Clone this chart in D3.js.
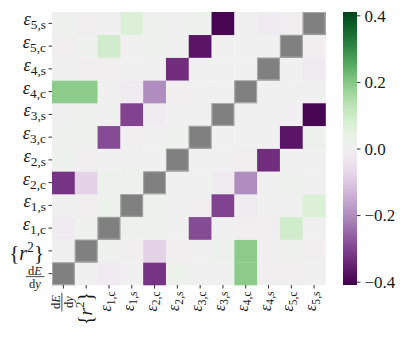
<!DOCTYPE html>
<html>
<head>
<meta charset="utf-8">
<script src="https://cdn.jsdelivr.net/npm/d3@7"></script>
<style>
  html, body { margin: 0; padding: 0; background: #fff; }
  svg { display: block; }
</style>
</head>
<body>
<svg id="chart" width="412" height="337"></svg>
<script>
// ---- data ----
// variable keys (index 0 = bottom row / left column)
const variables = ["dEdy", "r2", "e1c", "e1s", "e2c", "e2s", "e3c", "e3s", "e4c", "e4s", "e5c", "e5s"];
// label pieces: base symbol and subscript
const labelBase = ["frac", "braces", "ε", "ε", "ε", "ε", "ε", "ε", "ε", "ε", "ε", "ε"];
const labelSub = ["", "", "1,c", "1,s", "2,c", "2,s", "3,c", "3,s", "4,c", "4,s", "5,c", "5,s"];
const colorTicks = [-0.4, -0.2, 0.0, 0.2, 0.4];
const colorDomain = [-0.41, 0, 0.41];

// correlation rows (row variable -> values over column variables); null = diagonal
const row_dEdy = [null, 0.0, -0.02, 0.0, -0.32, 0.02, 0.0, 0.0, 0.19, -0.01, -0.01, 0.0];
const row_r2   = [0.0, null, 0.01, -0.01, -0.08, -0.01, 0.0, 0.02, 0.19, -0.01, 0.01, -0.01];
const row_e1c  = [-0.02, 0.005, null, 0.02, 0.02, 0.0, -0.29, 0.0, -0.01, -0.01, 0.09, 0.0];
const row_e1s  = [0.0, -0.01, 0.02, null, 0.02, 0.0, -0.01, -0.30, -0.02, 0.0, 0.0, 0.07];
const row_e2c  = [-0.32, -0.08, 0.02, 0.02, null, 0.0, 0.0, -0.02, -0.20, 0.0, 0.01, 0.0];
const row_e2s  = [0.02, -0.01, 0.0, -0.005, 0.0, null, 0.0, 0.0, -0.01, -0.33, 0.0, 0.0];
const row_e3c  = [0.01, 0.005, -0.29, -0.01, 0.0, 0.01, null, 0.0, 0.0, 0.0, -0.37, 0.02];
const row_e3s  = [0.0, 0.01, 0.0, -0.30, -0.02, 0.0, 0.0, null, 0.0, 0.0, 0.0, -0.40];
const row_e4c  = [0.19, 0.19, 0.0, -0.02, -0.20, -0.01, 0.0, 0.0, null, 0.0, 0.0, 0.0];
const row_e4s  = [0.0, -0.01, -0.01, 0.0, 0.0, -0.33, 0.0, 0.0, 0.0, null, 0.0, -0.02];
const row_e5c  = [-0.01, 0.01, 0.09, 0.0, 0.01, 0.0, -0.37, 0.0, 0.0, 0.0, null, -0.01];
const row_e5s  = [0.01, -0.01, 0.0, 0.07, 0.005, 0.0, 0.02, -0.40, 0.0, -0.02, -0.01, null];

const rows = [row_dEdy, row_r2, row_e1c, row_e1s, row_e2c, row_e2s, row_e3c, row_e3s, row_e4c, row_e4s, row_e5c, row_e5s];

// ---- pick an installed serif face ----
function pickSerif() {
  const ctx = document.createElement("canvas").getContext("2d");
  const sample = "mmmwwwlli0123456789abcdefEεy";
  function w(f) { ctx.font = "72px " + f; return ctx.measureText(sample).width; }
  const cands = ["Liberation Serif", "DejaVu Serif", "Noto Serif", "Tinos", "Times New Roman", "FreeSerif", "Nimbus Roman", "Times"];
  for (const c of cands) {
    const a = w(`'${c}', monospace`), b = w("monospace");
    const a2 = w(`'${c}', sans-serif`), b2 = w("sans-serif");
    if (Math.abs(a - b) > 0.5 || Math.abs(a2 - b2) > 0.5) return `'${c}'`;
  }
  return "serif";
}
const FONT = pickSerif() + ", serif";
const INK = "#1a1a1a";

// ---- layout ----
const svg = d3.select("#chart").style("font-family", FONT);
const plot = { left: 52, right: 325.5, top: 12, bottom: 285 };
const cbar = { left: 343, right: 357, top: 12, bottom: 285 };

const idx = d3.range(variables.length);
const x = d3.scaleBand().domain(idx).range([plot.left, plot.right]).padding(0);
const y = d3.scaleBand().domain(idx.slice().reverse()).range([plot.top, plot.bottom]).padding(0);
const color = d3.scaleDiverging(d3.interpolatePRGn).domain(colorDomain).clamp(true);

const cells = [];
rows.forEach((r, i) => r.forEach((v, j) => cells.push({ i, j, v })));

svg.append("g").selectAll("rect").data(cells).join("rect")
  .attr("x", d => x(d.j))
  .attr("y", d => y(d.i))
  .attr("width", x.bandwidth() + 0.3)
  .attr("height", y.bandwidth() + 0.3)
  .attr("fill", d => d.v === null ? "#808080" : color(d.v));

// diagonal light edge
svg.append("g").selectAll("rect").data(cells.filter(d => d.v === null)).join("rect")
  .attr("x", d => x(d.j) + 0.5)
  .attr("y", d => y(d.i) + 0.5)
  .attr("width", x.bandwidth() - 1)
  .attr("height", y.bandwidth() - 1)
  .attr("fill", "none")
  .attr("stroke", "#a8a8a8")
  .attr("stroke-width", 1);

// ---- axes ticks ----
const yAxis = d3.axisLeft(y).tickSize(3.5).tickFormat("");
const gy = svg.append("g").attr("transform", `translate(${plot.left},0)`).call(yAxis);
gy.select(".domain").remove();
gy.selectAll(".tick line").attr("stroke", INK).attr("stroke-width", 0.9);

const xAxis = d3.axisBottom(x).tickSize(3.5).tickFormat("");
const gx = svg.append("g").attr("transform", `translate(0,${plot.bottom})`).call(xAxis);
gx.select(".domain").remove();
gx.selectAll(".tick line").attr("stroke", INK).attr("stroke-width", 0.9);

function txt(g) {
  return g.append("text").attr("font-family", FONT).attr("fill", INK);
}

// ---- label builder (baseline offset `by` along the local y direction) ----
function drawLabel(g, k, size, by) {
  const base = labelBase[k];
  if (base === "frac") {
    const fs = 12.5;
    const t1 = txt(g).attr("text-anchor", "middle").attr("font-size", fs).attr("y", -2);
    t1.append("tspan").text("d");
    t1.append("tspan").attr("font-style", "italic").text("E");
    const t2 = txt(g).attr("text-anchor", "middle").attr("font-size", fs).attr("y", 11.5);
    t2.append("tspan").text("d");
    t2.append("tspan").attr("font-style", "italic").text("y");
    g.append("line").attr("x1", -9.3).attr("x2", 9.3).attr("y1", 0).attr("y2", 0)
      .attr("stroke", INK).attr("stroke-width", 0.8);
  } else if (base === "braces") {
    const t = txt(g).attr("text-anchor", "end").attr("y", by);
    t.append("tspan").attr("font-size", size * 1.05).text("{");
    t.append("tspan").attr("font-size", size).attr("font-style", "italic").text("r");
    t.append("tspan").attr("font-size", size * 0.68).attr("dy", -size * 0.4).text("2");
    t.append("tspan").attr("font-size", size * 1.05).attr("dy", size * 0.4).text("}");
  } else {
    const t = txt(g).attr("text-anchor", "end").attr("y", by);
    t.append("tspan").attr("font-size", size).attr("font-style", "italic").text(base);
    t.append("tspan").attr("font-size", size * 0.72).attr("dy", size * 0.22).text(labelSub[k]);
  }
}

// y labels
idx.forEach(k => {
  const cy = y(k) + y.bandwidth() / 2;
  const b = labelBase[k];
  if (b === "frac") {
    drawLabel(svg.append("g").attr("transform", `translate(35,${cy + 3})`), k, 12.5, 0);
  } else if (b === "braces") {
    drawLabel(svg.append("g").attr("transform", `translate(44,${cy})`), k, 20, 9);
  } else {
    drawLabel(svg.append("g").attr("transform", `translate(46,${cy})`), k, 18.5, 2);
  }
});

// x labels (rotated)
idx.forEach(k => {
  const cx = x(k) + x.bandwidth() / 2;
  const b = labelBase[k];
  if (b === "frac") {
    drawLabel(svg.append("g").attr("transform", `translate(${cx - 1.5},302) rotate(-90)`), k, 12.5, 0);
  } else if (b === "braces") {
    drawLabel(svg.append("g").attr("transform", `translate(${cx},292) rotate(-90)`), k, 19, 5.5);
  } else {
    drawLabel(svg.append("g").attr("transform", `translate(${cx},291.5) rotate(-90)`), k, 16, 2);
  }
});

// ---- colorbar ----
const defs = svg.append("defs");
const grad = defs.append("linearGradient").attr("id", "cbgrad")
  .attr("x1", 0).attr("y1", 1).attr("x2", 0).attr("y2", 0);
d3.range(0, 1.0001, 0.05).forEach(t => {
  grad.append("stop").attr("offset", t)
    .attr("stop-color", color(colorDomain[0] + t * (colorDomain[2] - colorDomain[0])));
});
svg.append("rect")
  .attr("x", cbar.left).attr("y", cbar.top)
  .attr("width", cbar.right - cbar.left).attr("height", cbar.bottom - cbar.top)
  .attr("fill", "url(#cbgrad)");

const cyScale = d3.scaleLinear().domain([colorDomain[0], colorDomain[2]]).range([cbar.bottom, cbar.top]);
const cAxis = d3.axisRight(cyScale).tickValues(colorTicks).tickSize(3.5)
  .tickFormat(d => (d < 0 ? "\u2212" : "") + Math.abs(d).toFixed(1));
const gc = svg.append("g").attr("transform", `translate(${cbar.right},0)`).call(cAxis);
gc.attr("font-family", null).attr("font-size", null);
gc.select(".domain").remove();
gc.selectAll(".tick line").attr("stroke", INK).attr("stroke-width", 0.9);
gc.selectAll(".tick text").attr("font-size", 17).attr("x", 7.5).attr("dy", "0.34em")
  .attr("font-family", FONT).attr("fill", INK);
</script>
</body>
</html>
